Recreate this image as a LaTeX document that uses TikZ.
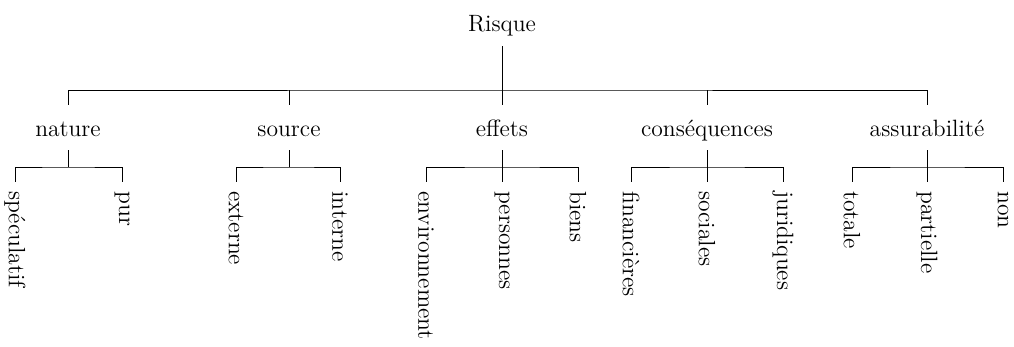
\documentclass[tikz,border=0pt]{standalone}
\usepackage{tikz}
\usetikzlibrary{calc}

\tikzset{
    top/.style={anchor=base, inner sep=0pt, inner ysep=7pt, text depth=0pt},
    cat/.style={anchor=base, inner xsep=2pt, inner ysep=6.5pt, text height=9.5pt, text depth=0pt},
    leaf/.style={rotate=-90, anchor=west, inner xsep=4.5pt}
}

\begin{document}
\begin{tikzpicture}[x=0.5pt, y=-0.5pt, font=\fontsize{11.8}{13}\selectfont]
    \useasboundingbox (0,0) rectangle (1014,347);
    % root
    \node[top] (risque) at (502,32) {Risque};
    % categories
    \node[cat] (nature) at (68,137) {nature};
    \node[cat] (source) at (289,137) {source};
    \node[cat] (effets) at (502,137) {effets};
    \node[cat] (cons) at (707,137) {cons\'equences};
    \node[cat] (assur) at (927,137) {assurabilit\'e};
    \coordinate (bar) at (502,90);
    \draw (risque.south) -- (effets.north);
    \draw (nature.north) |- (bar) -| (assur.north);
    \draw (source.north) -- (source.north |- bar);
    \draw (cons.north) -- (cons.north |- bar);
    % leaves
    \node[leaf] (spec) at (15,182) {sp\'eculatif};
    \node[leaf] (pur) at (122,182) {pur};
    \node[leaf] (ext) at (236,182) {externe};
    \node[leaf] (int) at (340,182) {interne};
    \node[leaf] (env) at (426,182) {environnement};
    \node[leaf] (pers) at (502,182) {personnes};
    \node[leaf] (biens) at (578,182) {biens};
    \node[leaf] (fin) at (631,182) {financi\`eres};
    \node[leaf] (soc) at (707,182) {sociales};
    \node[leaf] (jur) at (783,182) {juridiques};
    \node[leaf] (tot) at (852,182) {totale};
    \node[leaf] (part) at (927,182) {partielle};
    \node[leaf] (non) at (1003,182) {non};
    % forks
    \coordinate (b-nature) at (68,167);
    \coordinate (b-source) at (289,167);
    \coordinate (b-effets) at (502,167);
    \coordinate (b-cons) at (707,167);
    \coordinate (b-assur) at (927,167);
    \draw (nature.south) -- (b-nature);
    \draw (spec.west) |- (b-nature) -| (pur.west);
    \draw (source.south) -- (b-source);
    \draw (ext.west) |- (b-source) -| (int.west);
    \draw (effets.south) -- (pers.west);
    \draw (env.west) |- (b-effets) -| (biens.west);
    \draw (cons.south) -- (soc.west);
    \draw (fin.west) |- (b-cons) -| (jur.west);
    \draw (assur.south) -- (part.west);
    \draw (tot.west) |- (b-assur) -| (non.west);
\end{tikzpicture}
\end{document}
